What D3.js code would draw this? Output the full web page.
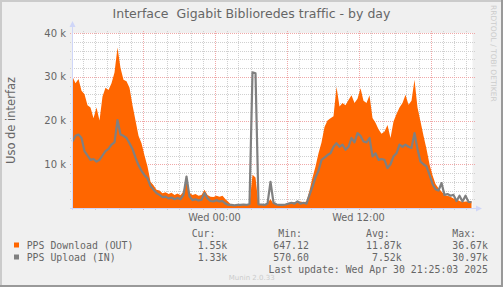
<!DOCTYPE html>
<html lang="es">
<head>
  <meta charset="UTF-8">
  <title>Interface Gigabit Biblioredes traffic - by day</title>
  <script src="https://cdnjs.cloudflare.com/ajax/libs/d3/7.8.5/d3.min.js"></script>
  <style>
    body { margin: 0; background: #f0f0f0; }
    svg text { fill: #666666; font-family: "DejaVu Sans", sans-serif; white-space: pre; }
    .mono { font-family: "DejaVu Sans Mono", monospace; font-size: 9.85px; }
    .grid-minor { stroke: #d0d0d0; stroke-dasharray: 1,1; shape-rendering: crispEdges; }
    .grid-major { stroke: #f0a8a8; stroke-dasharray: 1,1; shape-rendering: crispEdges; }
  </style>
</head>
<body>
  <svg width="503" height="287"></svg>
  <script>
    // samples every 15 min, Tue 29 Apr 12:10 -> Wed 30 Apr 21:25 (values in k pps)
    var ppsOut = [
      30.0, 28.5, 29.5, 26.8, 26.0, 23.5, 23.0, 20.5, 23.0, 20.0,
      25.5, 27.5, 27.0, 28.5, 31.0, 36.7, 32.0, 29.3, 29.0, 27.5,
      23.5, 20.0, 16.5, 14.8, 12.0, 9.5, 6.0, 5.2, 4.2, 4.0,
      3.4, 3.6, 3.2, 3.5, 3.0, 3.3, 2.9, 3.8, 7.5, 3.5,
      3.0, 3.2, 2.8, 3.0, 4.2, 3.0, 2.6, 2.5, 2.8, 2.6,
      2.8, 2.0, 1.4, 0.7, 0.7, 0.6, 0.7, 0.7, 0.8, 1.0,
      7.6, 7.0, 0.8, 0.8, 0.7, 1.2, 2.0, 1.0, 0.8, 0.7,
      0.7, 0.8, 0.9, 1.2, 1.4, 1.3, 1.5, 1.3, 1.5, 4.0,
      7.0, 9.5, 12.5, 15.0, 18.5, 20.0, 20.5, 21.0, 27.7, 23.2,
      24.0, 23.5, 24.7, 25.8, 24.0, 25.0, 27.4, 24.5, 24.0, 25.8,
      20.6, 19.5, 18.0, 17.0, 17.5, 19.0, 16.0, 19.8, 21.5, 23.0,
      24.0, 25.9, 23.6, 24.5, 29.3, 23.0, 19.8, 16.5, 13.5, 10.0,
      7.5, 5.5, 4.5, 3.8, 3.0, 2.8, 2.6, 2.2, 2.0, 1.6,
      1.4, 1.5, 1.4, 1.55
    ]
    var ppsIn = [
      15.2, 16.5, 16.8, 16.0, 13.0, 12.0, 11.0, 11.2, 10.6, 11.0,
      12.0, 13.0, 13.5, 14.5, 15.0, 20.1, 16.8, 16.5, 16.0, 14.8,
      13.5, 11.5, 9.8, 8.5, 7.5, 6.8, 5.0, 4.2, 3.4, 3.0,
      2.5, 2.6, 2.2, 2.4, 2.0, 2.3, 2.0, 3.0, 7.2, 2.6,
      1.8, 2.0, 1.7, 1.9, 3.4, 2.2, 1.6, 1.5, 1.8, 1.5,
      1.6, 1.0, 0.7, 0.7, 0.6, 0.7, 0.7, 0.8, 0.7, 0.9,
      31.0, 30.8, 0.8, 0.8, 0.7, 1.0, 6.0, 1.2, 0.8, 0.7,
      0.7, 0.8, 1.0, 1.2, 1.0, 1.5, 1.0, 1.2, 1.0, 3.0,
      4.9, 7.0, 8.5, 11.0, 11.5, 12.1, 12.5, 14.0, 14.8, 14.0,
      14.5, 13.3, 14.0, 16.0, 15.0, 17.1, 16.5, 15.2, 15.0, 16.0,
      11.8, 12.5, 11.0, 11.2, 11.0, 9.1, 10.0, 11.8, 12.5, 14.5,
      14.0, 14.5, 14.0, 13.7, 17.1, 13.5, 10.6, 10.0, 9.5, 7.6,
      5.5, 4.3, 4.0, 5.7, 3.0, 3.2, 2.8, 3.0, 1.6, 2.8,
      1.5, 2.8, 1.4, 1.33
    ]
    var yTicks = [10, 20, 30, 40]
    var legendHeads = ["Cur:", "Min:", "Avg:", "Max:"]
    var legendRows = [
      { name: "PPS Download (OUT)", color: "#ff6600", vals: ["1.55k", "647.12", "11.87k", "36.67k"] },
      { name: "PPS Upload (IN)", color: "#808080", vals: ["1.33k", "570.60", "7.52k", "30.97k"] }
    ]
    var lastUpdate = "Last update: Wed Apr 30 21:25:03 2025"

    var startT = new Date(2025, 3, 29, 12, 10)
    var endT = new Date(startT.getTime() + 400 * 300 * 1000)
    var times = ppsOut.map((d, i) => new Date(startT.getTime() + i * 15 * 60 * 1000))

    var svg = d3.select("svg")
    var W = 503, H = 287

    // background and 3d border
    svg.append("rect").attr("width", W).attr("height", H).attr("fill", "#f0f0f0")
    svg.append("path").attr("d", `M0,1H${W}M1,0V${H}`).attr("stroke", "#cbcbcb").attr("stroke-width", 2)
    svg.append("path").attr("d", `M0,${H - 1}H${W}M${W - 1},0V${H}`).attr("stroke", "#999999").attr("stroke-width", 2)

    var x = d3.scaleTime().domain([startT, endT]).range([72.5, 472.5])
    var y = d3.scaleLinear().domain([0, 40]).range([208, 33])

    svg.append("rect").attr("x", 72.5).attr("y", 33).attr("width", 400).attr("height", 175).attr("fill", "#fff")

    // grid
    var minorY = d3.range(2, 41, 2).filter(v => v % 10 !== 0)
    svg.selectAll(".hy").data(minorY).join("line").attr("class", "grid-minor")
      .attr("x1", 70).attr("x2", 475).attr("y1", d => Math.round(y(d)) + 0.5).attr("y2", d => Math.round(y(d)) + 0.5)
    var hours = d3.timeHour.range(startT, endT)
    svg.selectAll(".vx").data(hours.filter(d => d.getHours() % 6 !== 0)).join("line").attr("class", "grid-minor")
      .attr("x1", d => Math.round(x(d)) + 0.5).attr("x2", d => Math.round(x(d)) + 0.5).attr("y1", 31).attr("y2", 210)
    svg.selectAll(".my").data(yTicks).join("line").attr("class", "grid-major")
      .attr("x1", 70).attr("x2", 475).attr("y1", d => Math.round(y(d)) + 0.5).attr("y2", d => Math.round(y(d)) + 0.5)
    svg.selectAll(".mx").data(hours.filter(d => d.getHours() % 6 === 0)).join("line").attr("class", "grid-major")
      .attr("x1", d => Math.round(x(d)) + 0.5).attr("x2", d => Math.round(x(d)) + 0.5).attr("y1", 31).attr("y2", 210)

    // data
    var area = d3.area().x((d, i) => x(times[i])).y0(y(0)).y1(d => y(d))
    svg.append("path").datum(ppsOut).attr("d", area).attr("fill", "#ff6600")
    var line = d3.line().x((d, i) => x(times[i])).y(d => y(d))
    svg.append("path").datum(ppsIn).attr("d", line).attr("fill", "none")
      .attr("stroke", "#808080").attr("stroke-width", 2.2).attr("stroke-linejoin", "round")

    // axes
    svg.append("path").attr("d", "M72.5,210V27M70,208.5H476").attr("stroke", "#cfd6f8").attr("stroke-width", 1)
    svg.append("path").attr("d", "M69.5,27L72.5,21L75.5,27Z M476,205.5L482,208.5L476,211.5Z").attr("fill", "#cfd6f8")

    svg.selectAll(".yl").data(yTicks).join("text")
      .attr("x", 66).attr("y", d => y(d) + 3.5).attr("text-anchor", "end").attr("font-size", "10px")
      .text(d => d + " k")
    var fmt = d3.timeFormat("%a %H:%M")
    svg.selectAll(".xl").data(hours.filter(d => d.getHours() % 12 === 0)).join("text")
      .attr("x", d => x(d)).attr("y", 220.5).attr("text-anchor", "middle").attr("font-size", "9.8px")
      .text(d => fmt(d))

    svg.append("text").attr("x", 251.5).attr("y", 17.5).attr("text-anchor", "middle")
      .attr("font-size", "12.5px").text("Interface  Gigabit Biblioredes traffic - by day")
    svg.append("text").attr("transform", "translate(15,120.5) rotate(-90)").attr("text-anchor", "middle")
      .attr("font-size", "11.5px").text("Uso de interfaz")
    svg.append("text").attr("transform", "translate(491,5) rotate(90)").attr("font-size", "7.5px")
      .style("fill", "#cccccc").text("RRDTOOL / TOBI OETIKER")

    // legend
    var colEnds = [227.3, 308.9, 401.6, 487.9]
    var headEnds = [215.4, 302, 389.7, 476]
    svg.selectAll(".lh").data(legendHeads).join("text").attr("class", "mono")
      .attr("x", (d, i) => headEnds[i]).attr("y", 237).attr("text-anchor", "end").text(d => d)
    legendRows.forEach((r, k) => {
      var yy = 248.5 + k * 12
      svg.append("rect").attr("x", 14).attr("y", yy - 6).attr("width", 5).attr("height", 5).attr("fill", r.color)
      svg.append("text").attr("class", "mono").attr("x", 26.7).attr("y", yy).text(r.name)
      r.vals.forEach((v, j) => {
        svg.append("text").attr("class", "mono").attr("x", colEnds[j]).attr("y", yy).attr("text-anchor", "end").text(v)
      })
    })
    svg.append("text").attr("class", "mono").attr("x", 487.9).attr("y", 272.5).attr("text-anchor", "end").text(lastUpdate)
    svg.append("text").attr("x", 251.7).attr("y", 279.5).attr("text-anchor", "middle").attr("font-size", "7px")
      .style("fill", "#cccccc").text("Munin 2.0.33")
  </script>
</body>
</html>
